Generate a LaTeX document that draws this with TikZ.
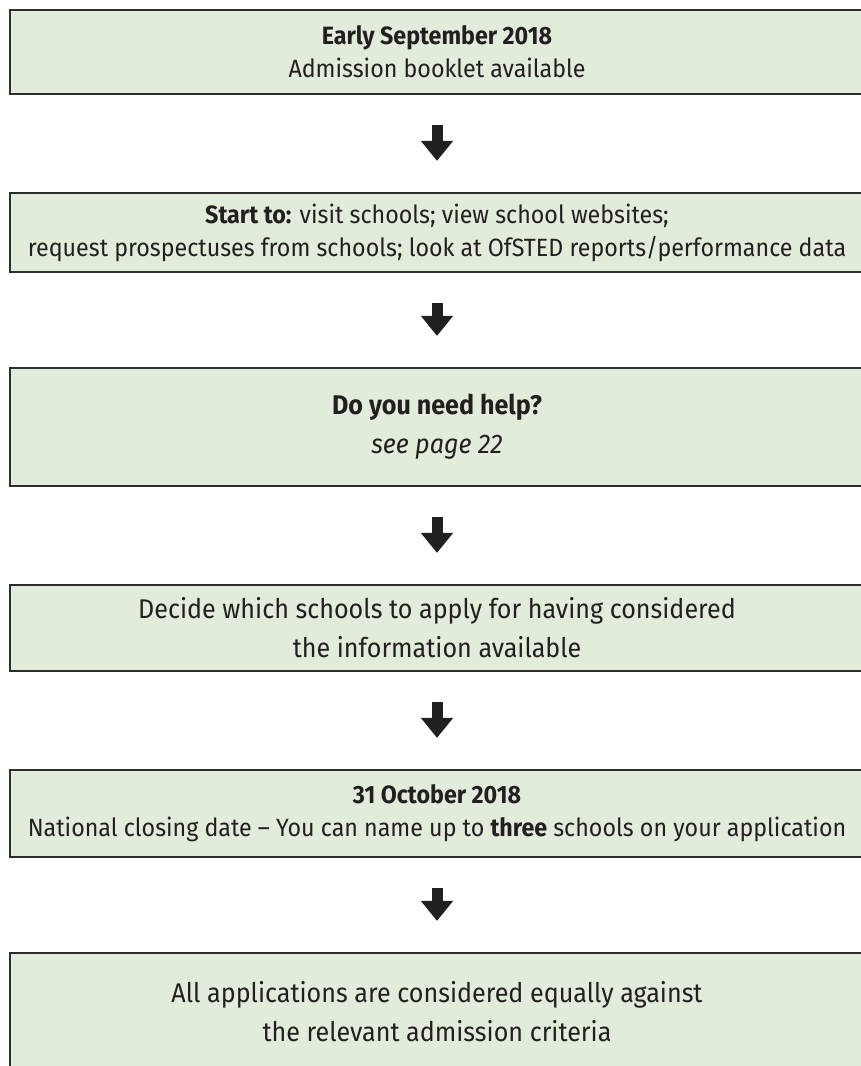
\documentclass[tikz,border=0pt]{standalone}
\usepackage{fontspec}
\setmainfont{Fira Sans}[FakeStretch=0.93]
\usetikzlibrary{arrows.meta}
\definecolor{boxgreen}{RGB}{226,236,218}
\definecolor{boxline}{RGB}{45,45,45}
\definecolor{ink}{RGB}{35,31,32}
\begin{document}
\begin{tikzpicture}[x=1pt,y=-1pt,
    stage/.style={draw=boxline, line width=2.2pt, fill=boxgreen, text=ink,
        minimum width=854pt, inner sep=0pt, align=center},
    small/.style={font=\fontsize{25}{33}\selectfont},
    big/.style={font=\fontsize{27}{39}\selectfont},
    down/.style={line width=11pt, draw=ink,
        -{Triangle[width=31pt,length=20pt]}, shorten <=30pt, shorten >=31pt}]
        \useasboundingbox (0,0) rectangle (860,1066);
        \node[stage, small, minimum height=84pt] (early) at (437,52)
            {\textbf{Early September 2018}\\Admission booklet available};
        \node[stage, small, minimum height=79pt] (start) at (437,232.5)
            {\textbf{Start to:} visit schools; view school websites;\\
             request prospectuses from schools; look at OfSTED reports/performance data};
        \node[stage, big, minimum height=118pt] (help) at (437,427)
            {\textbf{Do you need help?}\\\textit{see page 22}};
        \node[stage, big, minimum height=86pt] (decide) at (437,628)
            {Decide which schools to apply for having considered\\the information available};
        \node[stage, small, minimum height=87pt] (closing) at (437,813.5)
            {\textbf{31 October 2018}\\National closing date -- You can name up to \textbf{three} schools on your application};
        \node[stage, big, minimum height=118pt] (all) at (437,1012)
            {All applications are considered equally against\\the relevant admission criteria};
        \foreach \a/\b in {early/start, start/help, help/decide, decide/closing, closing/all}
            \draw[down] (\a.south) -- (\b.north);
\end{tikzpicture}
\end{document}
